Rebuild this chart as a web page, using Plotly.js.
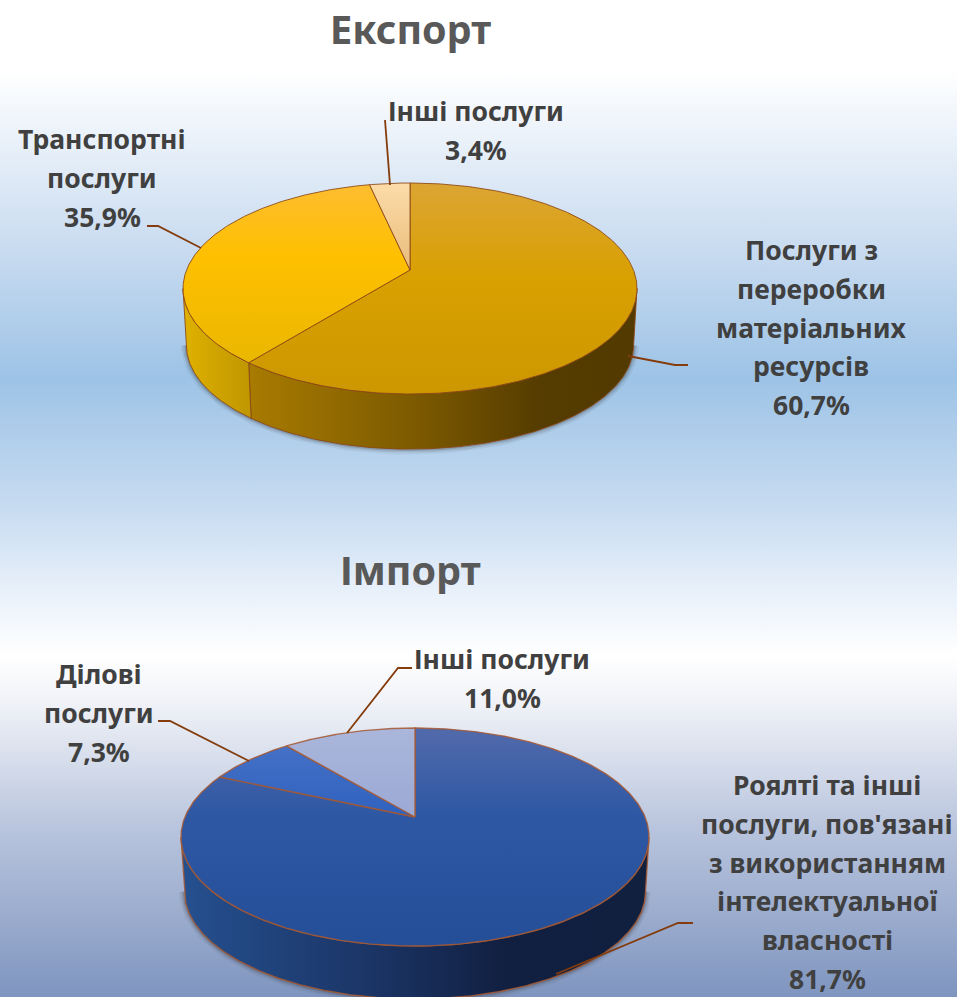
<!DOCTYPE html>
<html><head><meta charset="utf-8">
<script src="https://cdn.plot.ly/plotly-3.0.1.min.js"></script>
<style>
html,body{margin:0;padding:0;width:957px;height:997px;overflow:hidden;
background:linear-gradient(180deg,#ffffff 0px,#ffffff 70px,#c5d9ef 260px,#9dc3e6 378px,#c8dcf1 510px,#e8f0fa 590px,#ffffff 655px,#f1f3f8 700px,#b8c4dd 830px,#7f95bf 997px);}
#chart{width:957px;height:997px;}
</style></head><body><div id="chart"></div>
<script>
const exportTitle = "Експорт";
const exportLabels = ["Послуги з<br>переробки<br>матеріальних<br>ресурсів", "Транспортні<br>послуги", "Інші послуги"];
const exportValues = [60.7, 35.9, 3.4];
const importTitle = "Імпорт";
const importLabels = ["Роялті та інші<br>послуги, пов'язані<br>з використанням<br>інтелектуальної<br>власності", "Ділові<br>послуги", "Інші послуги"];
const importValues = [81.7, 7.3, 11.0];

const LEADER = "#843c0c";
const FONT = "Noto Sans";

const exportStyle = {
  cx: 410, apex: 270, up: 87, down: 124, rx: 227, depth: 57, shrink: 0.985,
  outline: "rgba(139,69,19,0.85)", outlineWidth: 1,
  top: [
    [[0,"#dba534"],[0.45,"#d9a000"],[1,"#cc9700"]],
    [[0,"#fdbd30"],[0.4,"#ffc000"],[1,"#eab700"]],
    [[0,"#fcdca8"],[1,"#e8bc7c"]]
  ],
  side: [
    [[0,"#a87b00"],[0.45,"#7a5800"],[0.75,"#553c00"],[1,"#523a00"]],
    [[0,"#dfb100"],[1,"#bf9600"]],
    [[0,"#e0b070"],[1,"#c09050"]]
  ],
  leaders: [
    [[628,356],[675,365],[688,365]],
    [[147,226],[158,226],[201,248]],
    [[385,120],[390,185]]
  ],
  textX: [811,102,476],
  textY: [250,139,111],
  titleY: 29
};
const importStyle = {
  cx: 415, apex: 817, up: 89, down: 129, rx: 234, depth: 55, shrink: 0.985,
  outline: "rgba(165,88,50,0.85)", outlineWidth: 1.4,
  top: [
    [[0,"#526aab"],[0.4,"#2e58a4"],[1,"#254e98"]],
    [[0,"#4570c6"],[1,"#2e62bf"]],
    [[0,"#aab6da"],[1,"#9ba9d5"]]
  ],
  side: [
    [[0,"#25508f"],[0.4,"#1b3566"],[0.7,"#111f40"],[1,"#10203f"]],
    [[0,"#2a55a0"],[1,"#2a55a0"]],
    [[0,"#8090c0"],[1,"#8090c0"]]
  ],
  leaders: [
    [[556,974],[678,923],[693,923]],
    [[158,721],[170,721],[249,761]],
    [[412,668],[398,668],[347,733]]
  ],
  textX: [827,99,502],
  textY: [785,674,659],
  titleY: 570
};
const LINE_STEP = 38.8;

function projector(g){
  const k = (g.down-g.up)/(g.down+g.up);
  const b = g.down*(1-k);
  const a = g.rx*Math.sqrt(1-k*k);
  return {k, at(phi, s, dy){
    const u=Math.sin(phi), v=-Math.cos(phi), w=1-k*v;
    return [g.cx+s*a*u/w, g.apex+dy+s*b*v/w];
  }};
}
function arc(p, from, to, s, dy){
  const n=Math.max(2,Math.ceil(Math.abs(to-from)/0.01)), pts=[];
  for(let i=0;i<=n;i++) pts.push(p.at(from+(to-from)*i/n,s,dy));
  return pts;
}
function xs(a){return a.map(d=>d[0]);} function ys(a){return a.map(d=>d[1]);}
// Plotly's vertical gradient runs upward on screen, the stops here are listed top to bottom
function flip(scale){return scale.map(([q,c])=>[1-q,c]).reverse();}

function pieTraces(values, g){
  const p=projector(g), T=2*Math.PI, total=values.reduce((a,b)=>a+b,0);
  const visL=Math.PI/2+Math.asin(p.k), visR=T-visL;
  const out=[], sides=[], tops=[];
  const rim=arc(p,visL,visR,g.shrink,g.depth);
  [[11,"rgba(50,50,50,0.07)"],[7,"rgba(50,50,50,0.12)"],[3.5,"rgba(50,50,50,0.20)"]].forEach(([w,c])=>{
    out.push({type:"scatter",mode:"lines",x:xs(rim),y:ys(rim),line:{width:w,color:c},hoverinfo:"skip",showlegend:false});
  });
  let acc=0;
  values.forEach((v,i)=>{
    const a0=acc/total*T, a1=(acc+v)/total*T; acc+=v;
    const f=Math.max(a0,visL), t=Math.min(a1,visR);
    if(t>f){
      const up=arc(p,f,t,1,0), low=arc(p,t,f,g.shrink,g.depth), poly=up.concat(low,[up[0]]);
      sides.push({type:"scatter",mode:"lines",x:xs(poly),y:ys(poly),fill:"toself",
        fillgradient:{type:"horizontal",colorscale:g.side[i]},
        line:{width:g.outlineWidth,color:g.outline},hoverinfo:"skip",showlegend:false});
    }
    const rimTop=arc(p,a0,a1,1,0);
    const c=p.at(0,0,0);
    const poly=[c].concat(rimTop,[c]);
    tops.push({type:"scatter",mode:"lines",x:xs(poly),y:ys(poly),fill:"toself",
      fillgradient:{type:"vertical",colorscale:flip(g.top[i])},
      line:{width:g.outlineWidth,color:g.outline},hoverinfo:"skip",showlegend:false});
  });
  return out.concat(sides,tops);
}
function fmt(v){return v.toFixed(1).replace(".",",")+"%";}
function textAnn(t,x,y,size,color){
  return {text:t,x:x,y:y,xref:"x",yref:"y",showarrow:false,xanchor:"center",yanchor:"middle",
    font:{family:FONT,size:size,color:color,weight:700}};
}
function labelAnns(labels,values,g){
  const out=[];
  labels.forEach((l,i)=>{
    const lines=l.split("<br>").concat([fmt(values[i])]);
    lines.forEach((s,j)=>out.push(textAnn(s,g.textX[i],g.textY[i]+j*LINE_STEP,26.5,"#404040")));
  });
  return out;
}
function leaderShapes(g){
  return g.leaders.map(pts=>({type:"path",xref:"x",yref:"y",
    path:pts.map((q,i)=>(i?"L":"M")+q[0]+","+q[1]).join(" "),
    line:{color:LEADER,width:1.8},fillcolor:"rgba(0,0,0,0)"}));
}
const data=pieTraces(exportValues,exportStyle).concat(pieTraces(importValues,importStyle));
const annotations=[
  textAnn(exportTitle,exportStyle.cx,exportStyle.titleY,39.5,"#595959"),
  textAnn(importTitle,exportStyle.cx,importStyle.titleY,39.5,"#595959")
].concat(labelAnns(exportLabels,exportValues,exportStyle),labelAnns(importLabels,importValues,importStyle));
const layout={
  width:957,height:997,margin:{l:0,r:0,t:0,b:0},showlegend:false,
  paper_bgcolor:"rgba(0,0,0,0)",plot_bgcolor:"rgba(0,0,0,0)",
  xaxis:{range:[0,957],visible:false,fixedrange:true},
  yaxis:{range:[997,0],visible:false,fixedrange:true},
  annotations:annotations,
  shapes:leaderShapes(exportStyle).concat(leaderShapes(importStyle))
};
Plotly.newPlot("chart",data,layout,{staticPlot:true,displayModeBar:false});
</script></body></html>
